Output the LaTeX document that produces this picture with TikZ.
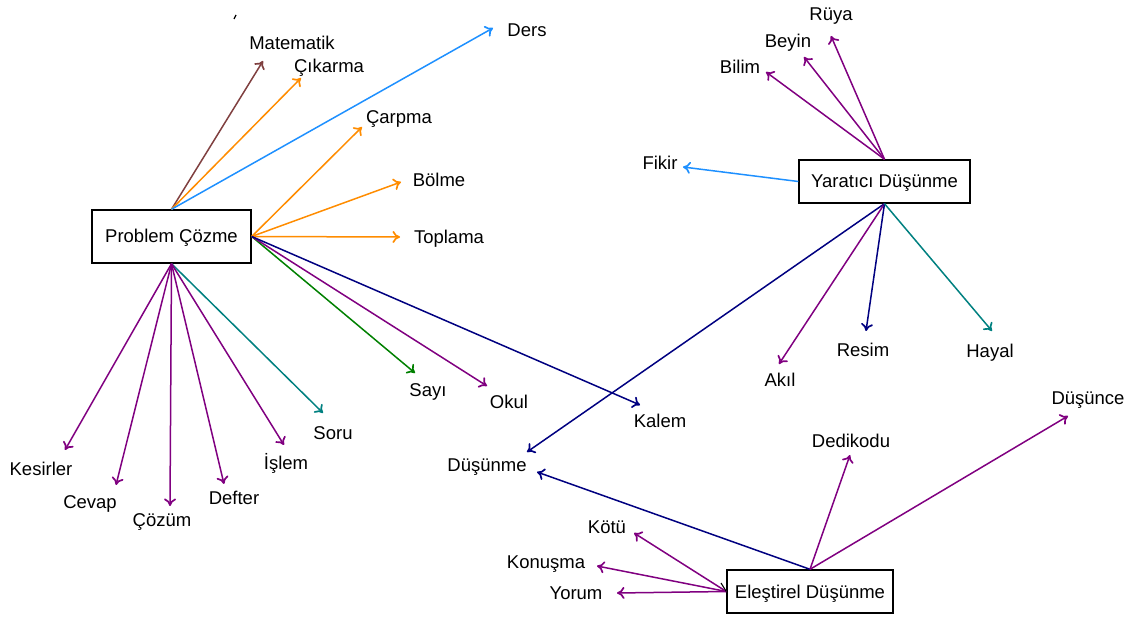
\documentclass[tikz,border=0pt]{standalone}
\usepackage{fontspec}
\setmainfont{Liberation Sans}
\usetikzlibrary{arrows.meta}
\definecolor{cbrown}{HTML}{804040}
\definecolor{corange}{HTML}{FF8C00}
\definecolor{cblue}{HTML}{1E90FF}
\definecolor{cgreen}{HTML}{008000}
\definecolor{cpurple}{HTML}{800080}
\definecolor{cnavy}{HTML}{000080}
\definecolor{cteal}{HTML}{008080}
\tikzset{
  box/.style={draw=black, line width=1.4pt, inner sep=0pt, text height=13pt, text depth=0pt,
              font=\fontsize{18.5}{22}\selectfont},
  lbl/.style={inner sep=0pt, text height=13pt, text depth=0pt, font=\fontsize{18.5}{22}\selectfont},
  link/.style={line width=1.5pt, -{To[length=7.5pt,width=12pt,line width=1.7pt]}},
}
\begin{document}
\begin{tikzpicture}[x=1pt,y=-1pt]
\useasboundingbox (0,0) rectangle (1133,617);

% central topics
\node[box, minimum width=159pt, minimum height=53pt] (pc) at (171.5,236.5) {Problem Çözme};
\node[box, minimum width=171pt, minimum height=43pt] (yd) at (884.5,181.5) {Yaratıcı Düşünme};
\node[box, minimum width=166pt, minimum height=43pt] (ed) at (810,591.5) {Eleştirel Düşünme};

% labels
\node[lbl] (matematik) at (292,43) {Matematik};
\node[lbl] (cikarma) at (329,66) {Çıkarma};
\node[lbl] (ders) at (527,30) {Ders};
\node[lbl] (carpma) at (399,117) {Çarpma};
\node[lbl] (bolme) at (439,180) {Bölme};
\node[lbl] (toplama) at (449,237) {Toplama};
\node[lbl] (sayi) at (428,390) {Sayı};
\node[lbl] (okul) at (509,402) {Okul};
\node[lbl] (kalem) at (660,421) {Kalem};
\node[lbl] (soru) at (333,433) {Soru};
\node[lbl] (islem) at (286,463) {İşlem};
\node[lbl] (defter) at (234,498) {Defter};
\node[lbl] (cozum) at (162,520) {Çözüm};
\node[lbl] (cevap) at (90,502) {Cevap};
\node[lbl] (kesirler) at (41,469) {Kesirler};

\node[lbl] (ruya) at (831,14) {Rüya};
\node[lbl] (beyin) at (788,41) {Beyin};
\node[lbl] (bilim) at (740,67) {Bilim};
\node[lbl] (fikir) at (660,163) {Fikir};
\node[lbl] (dusunme) at (487,465) {Düşünme};
\node[lbl] (akil) at (780,380) {Akıl};
\node[lbl] (resim) at (863,350) {Resim};
\node[lbl] (hayal) at (990,351) {Hayal};

\node[lbl] (dedikodu) at (851,441) {Dedikodu};
\node[lbl] (dusunce) at (1088,398) {Düşünce};
\node[lbl] (kotu) at (607,527) {Kötü};
\node[lbl] (konusma) at (546,562) {Konuşma};
\node[lbl] (yorum) at (576,593) {Yorum};

% arrow ends
\coordinate (tMatematik) at (263,61);
\coordinate (tCikarma) at (301,78);
\coordinate (tDers) at (493,28);
\coordinate (tCarpma) at (362,127);
\coordinate (tBolme) at (401,182);
\coordinate (tToplama) at (400,237);
\coordinate (tSayi) at (415,373);
\coordinate (tOkul) at (487,386);
\coordinate (tKalem) at (640,405);
\coordinate (tSoru) at (323,413);
\coordinate (tIslem) at (284,445);
\coordinate (tDefter) at (224,484);
\coordinate (tCozum) at (170,506);
\coordinate (tCevap) at (116,485);
\coordinate (tKesirler) at (65,450);

\coordinate (tRuya) at (831,36);
\coordinate (tBeyin) at (804,57);
\coordinate (tBilim) at (766,72);
\coordinate (tFikir) at (683,167);
\coordinate (tDusunmeA) at (527,452);
\coordinate (tAkil) at (779,364);
\coordinate (tResim) at (866,331);
\coordinate (tHayal) at (992,331);

\coordinate (tDusunmeB) at (537,472);
\coordinate (tDedikodu) at (850,455);
\coordinate (tDusunce) at (1068,416);
\coordinate (tKotu) at (634,533);
\coordinate (tKonusma) at (597,566);
\coordinate (tYorum) at (617,593);

% Problem Çözme links
\draw[link, cbrown] (pc.north) -- (tMatematik);
\draw[link, corange] (pc.north) -- (tCikarma);
\draw[link, cblue] (pc.north) -- (tDers);
\draw[link, corange] (pc.east) -- (tCarpma);
\draw[link, corange] (pc.east) -- (tBolme);
\draw[link, corange] (pc.east) -- (tToplama);
\draw[link, cgreen] (pc.east) -- (tSayi);
\draw[link, cpurple] (pc.east) -- (tOkul);
\draw[link, cnavy] (pc.east) -- (tKalem);
\draw[link, cteal] (pc.south) -- (tSoru);
\draw[link, cpurple] (pc.south) -- (tIslem);
\draw[link, cpurple] (pc.south) -- (tDefter);
\draw[link, cpurple] (pc.south) -- (tCozum);
\draw[link, cpurple] (pc.south) -- (tCevap);
\draw[link, cpurple] (pc.south) -- (tKesirler);

% Yaratıcı Düşünme links
\draw[link, cpurple] (yd.north) -- (tRuya);
\draw[link, cpurple] (yd.north) -- (tBeyin);
\draw[link, cpurple] (yd.north) -- (tBilim);
\draw[link, cblue] (yd.west) -- (tFikir);
\draw[link, cnavy] (yd.south) -- (tDusunmeA);
\draw[link, cpurple] (yd.south) -- (tAkil);
\draw[link, cnavy] (yd.south) -- (tResim);
\draw[link, cteal] (yd.south) -- (tHayal);

% Eleştirel Düşünme links
\draw[link, cnavy] (ed.north) -- (tDusunmeB);
\draw[link, cpurple] (ed.north) -- (tDedikodu);
\draw[link, cpurple] (ed.north) -- (tDusunce);
\draw[link, cpurple] (ed.west) -- (tKotu);
\draw[link, cpurple] (ed.west) -- (tKonusma);
\draw[link, cpurple] (ed.west) -- (tYorum);

% stray ticks
\coordinate (tickA) at (721,583);
\draw[line width=1.1pt] (tickA) -- (ed.west);
\coordinate (tickB1) at (236,15);
\coordinate (tickB2) at (234,19);
\draw[line width=1.2pt] (tickB1) -- (tickB2);
\end{tikzpicture}
\end{document}
